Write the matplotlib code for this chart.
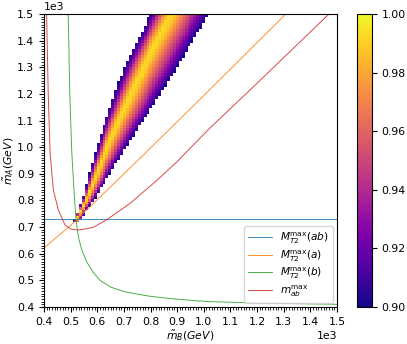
import matplotlib
matplotlib.use("Agg")
import matplotlib.pyplot as plt
import numpy as np
from matplotlib.ticker import MultipleLocator

# --- curves (GeV) ---
mt2_ab_x = [400, 1500]
mt2_ab_y = [730, 730]

mt2_a_x = [400, 500, 754, 986, 1308]
mt2_a_y = [622, 706, 952, 1180, 1500]

mt2_b_x = [491, 497, 504, 512, 520, 530, 542, 560, 585, 610, 650, 700, 735, 800, 861, 950, 1023, 1200, 1500]
mt2_b_y = [1500, 1200, 990, 850, 730, 660, 614, 570, 530, 500, 475, 458, 451, 440, 433, 425, 420, 415, 410]

mab_x = [410, 416, 423, 435, 454, 479, 500, 523, 550, 585, 635, 723, 829, 899, 1023, 1200, 1470]
mab_y = [1500, 1200, 980, 840, 764, 708, 693, 689, 692, 699, 727, 789, 880, 945, 1072, 1240, 1500]

# --- likelihood-ratio wedge: edges per row and profile across it ---
wedge_y = [717, 800, 900, 1000, 1100, 1200, 1300, 1400, 1500]
wedge_left = [512, 542, 570, 598, 630, 665, 702, 750, 798]
wedge_right = [530, 586, 648, 708, 772, 838, 900, 960, 1019]
prof_t = [0.0, 0.06, 0.15, 0.25, 0.33, 0.42, 0.52, 0.65, 0.78, 0.90, 1.0]
prof_v = [0.90, 0.915, 0.945, 0.975, 0.993, 0.99, 0.975, 0.955, 0.935, 0.915, 0.90]

edges = np.linspace(400, 1500, 101)
centers = 0.5 * (edges[:-1] + edges[1:])
Z = np.full((len(centers), len(centers)), np.nan)
for i, yc in enumerate(centers):
    if yc < wedge_y[0] or yc > wedge_y[-1]:
        continue
    lo = np.interp(yc, wedge_y, wedge_left)
    hi = np.interp(yc, wedge_y, wedge_right)
    t = (centers - lo) / (hi - lo)
    inside = (t >= 0) & (t <= 1)
    Z[i, inside] = np.interp(t[inside], prof_t, prof_v)
Z = np.ma.masked_invalid(Z)

fig = plt.figure(figsize=(4.07, 3.44), dpi=100)
ax = fig.add_axes([0.108, 0.1076, 0.720, 0.8517])
cax = fig.add_axes([0.877, 0.1076, 0.037, 0.8517])

mesh = ax.pcolormesh(edges, edges, Z, cmap="plasma", vmin=0.9, vmax=1.0)
kw = dict(lw=0.7, alpha=0.85)
ax.plot(mt2_ab_x, mt2_ab_y, color="tab:blue", label=r"$M_{T2}^{\max}(ab)$", **kw)
ax.plot(mt2_a_x, mt2_a_y, color="tab:orange", label=r"$M_{T2}^{\max}(a)$", **kw)
ax.plot(mt2_b_x, mt2_b_y, color="tab:green", label=r"$M_{T2}^{\max}(b)$", **kw)
ax.plot(mab_x, mab_y, color="tab:red", label=r"$m_{ab}^{\max}$", **kw)

ax.set_xlim(400, 1500)
ax.set_ylim(400, 1500)
for a in (ax.xaxis, ax.yaxis):
    a.set_major_locator(MultipleLocator(100))
    a.set_minor_locator(MultipleLocator(10))
ax.ticklabel_format(style="sci", axis="both", scilimits=(0, 0))
ax.tick_params(labelsize=7.8)
ax.xaxis.get_offset_text().set_fontsize(7.8)
ax.yaxis.get_offset_text().set_fontsize(7.8)
ax.set_xlabel(r"$\tilde{m}_B(GeV)$", fontsize=7.8, labelpad=1)
ax.set_ylabel(r"$\tilde{m}_A(GeV)$", fontsize=7.8, labelpad=1)
ax.legend(loc="lower right", fontsize=7.6, labelspacing=0.2, borderaxespad=0.4,
          handlelength=2.2)

cb = fig.colorbar(mesh, cax=cax)
cb.set_ticks([0.90, 0.92, 0.94, 0.96, 0.98, 1.00])
cb.ax.tick_params(labelsize=7.8)

fig.savefig("out.png", dpi=100)
